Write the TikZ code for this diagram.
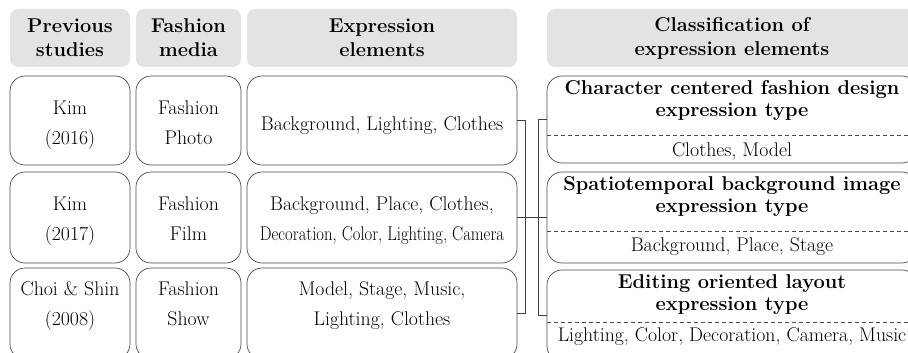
\documentclass[tikz,border=0pt]{standalone}
\usepackage{fontspec}
\usepackage[dvipsnames]{xcolor}
\usepackage{graphicx}
\usepackage{tikz}

\begin{document}
\begin{tikzpicture}[x=1pt, y=-1pt]
      \tikzstyle hdr=[fill=black!11, rounded corners=8pt, align=center, inner sep=0pt,
         font=\fontsize{20}{24}\selectfont\bfseries];
      \tikzstyle cellbox=[draw=black!70, line width=0.7pt, rounded corners=15pt, align=center,
         inner sep=0pt, text depth=4pt, font=\fontsize{19.8}{30}\selectfont];
      \tikzstyle rowA=[text height=51pt];
      \tikzstyle rowB=[text height=49pt];
      \tikzstyle rowC=[text height=27pt];
      \tikzstyle typetitle=[align=center, inner sep=0pt, font=\fontsize{20}{22}\selectfont\bfseries];
      \tikzstyle typeitems=[inner sep=0pt, font=\fontsize{19.8}{22}\selectfont];
      \tikzstyle joinline=[draw=black!75, line width=0.7pt];

      \useasboundingbox (0, 0) rectangle (908, 353);
      \clip (0, 0) rectangle (908, 353);
      \fill[white] (0, 0) rectangle (908, 353);

      %header row
      \node[hdr, minimum width=120pt, minimum height=58pt] (hstudy) at (70, 38) {Previous\\studies};
      \node[hdr, minimum width=105pt, minimum height=58pt] (hmedia) at (188.5, 38) {Fashion\\media};
      \node[hdr, minimum width=270pt, minimum height=58pt] (helem) at (382, 38) {Expression\\elements};
      \node[hdr, minimum width=370pt, minimum height=58pt] (hclass) at (732, 38) {Classification of\\expression elements};

      %studies
      \node[cellbox, rowA, minimum width=120pt, minimum height=89pt] (kimA) at (70, 120.5) {Kim\\(2016)};
      \node[cellbox, rowB, minimum width=120pt, minimum height=91pt] (kimB) at (70, 217.5) {Kim\\(2017)};
      \node[cellbox, rowC, minimum width=120pt, minimum height=91pt] (choi) at (70, 313.5) {Choi \& Shin\\(2008)};

      \node[cellbox, rowA, minimum width=105pt, minimum height=89pt] (photo) at (188.5, 120.5) {Fashion\\Photo};
      \node[cellbox, rowB, minimum width=105pt, minimum height=91pt] (film) at (188.5, 217.5) {Fashion\\Film};
      \node[cellbox, rowC, minimum width=105pt, minimum height=91pt] (show) at (188.5, 313.5) {Fashion\\Show};

      \node[cellbox, text height=23pt, minimum width=270pt, minimum height=89pt] (elphoto)
         at (382, 120.5) {Background, Lighting, Clothes};
      \node[cellbox, rowB, minimum width=270pt, minimum height=91pt] (elfilm) at (382, 217.5)
         {Background, Place, Clothes,\\\scalebox{0.84}[1]{Decoration, Color, Lighting, Camera}};
      \node[cellbox, rowC, minimum width=270pt, minimum height=91pt] (elshow) at (382, 313.5)
         {Model, Stage, Music,\\Lighting, Clothes};

      %types
      \node[cellbox, minimum width=370pt, minimum height=87pt] (character) at (732, 119.5) {};
      \node[cellbox, minimum width=370pt, minimum height=91pt] (spatio) at (732, 217.5) {};
      \node[cellbox, minimum width=370pt, minimum height=91pt] (editing) at (732, 315.5) {};

      \node[typetitle] (charactertitle) at (732, 101) {Character centered fashion design\\expression type};
      \node[typetitle] (spatiotitle) at (732, 197) {Spatiotemporal background image\\expression type};
      \node[typetitle] (editingtitle) at (732, 295) {Editing oriented layout\\expression type};

      \node[typeitems] (characteritems) at (732, 151) {Clothes, Model};
      \node[typeitems] (spatioitems) at (732, 247) {Background, Place, Stage};
      \node[typeitems] (editingitems) at (732, 337) {Lighting, Color, Decoration, Camera, Music};

      \draw[black!70, dash pattern=on 4pt off 3pt] (character.west |- 0, 135) -- (character.east |- 0, 135);
      \draw[black!70, dash pattern=on 4pt off 3pt] (spatio.west |- 0, 231) -- (spatio.east |- 0, 231);
      \draw[black!70, dash pattern=on 4pt off 3pt] (editing.west |- 0, 322) -- (editing.east |- 0, 322);

      %brackets
      \draw[joinline] (elphoto.east) -- ++(8, 0) |- (elshow.east);
      \draw[joinline] (elfilm.east) -- (spatio.west);
      \draw[joinline] (character.west) -- ++(-8, 0) |- (editing.west);

\end{tikzpicture}
\end{document}
